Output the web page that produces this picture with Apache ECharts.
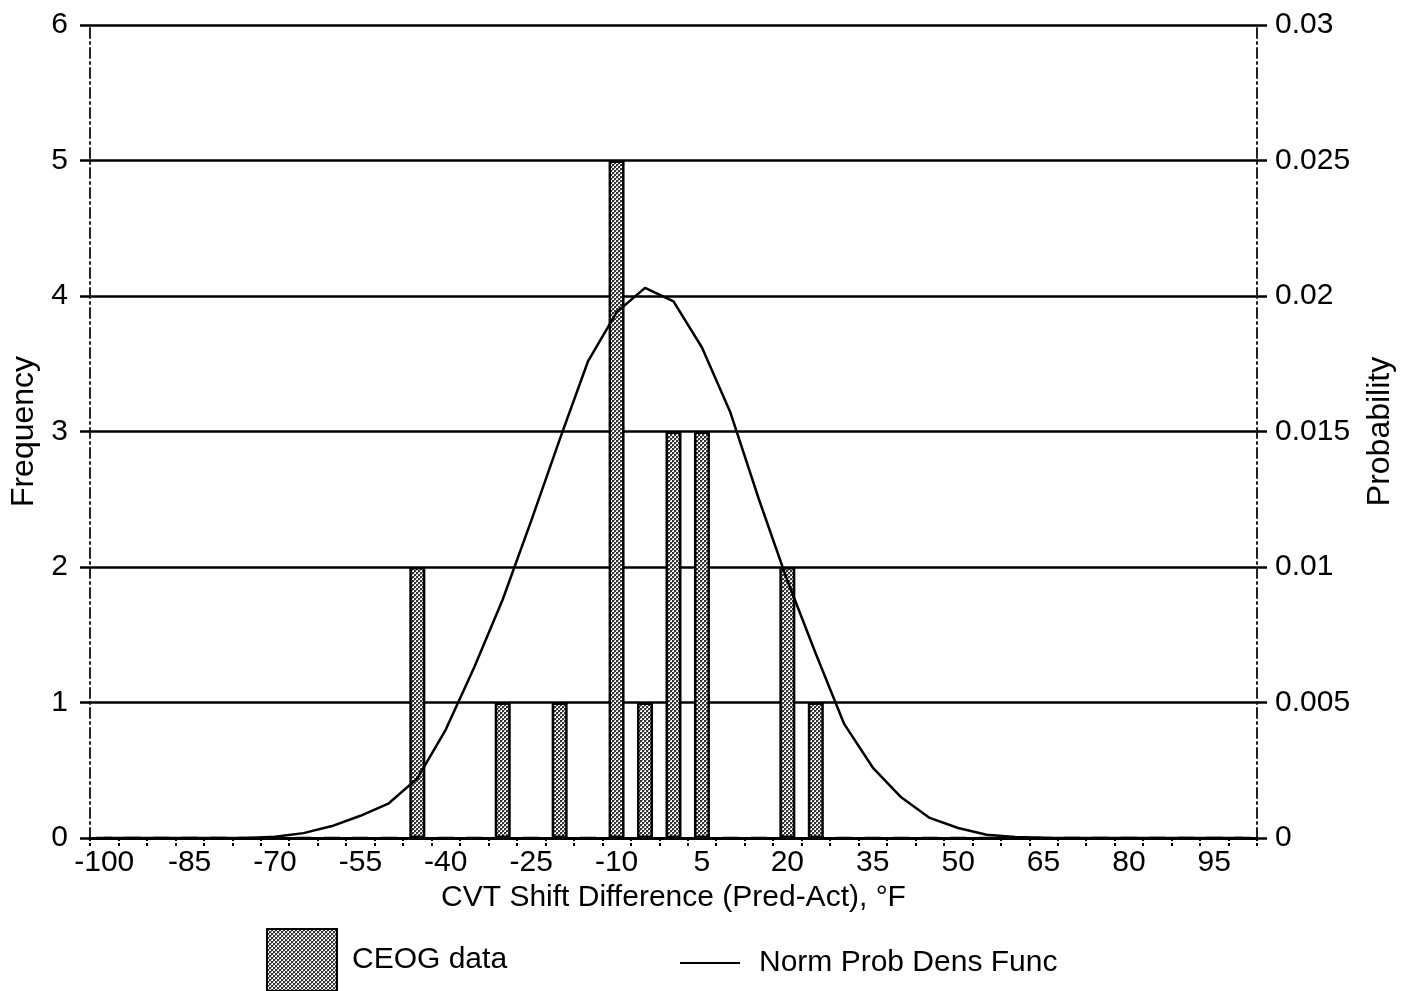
<!DOCTYPE html>
<html>
<head>
<meta charset="utf-8">
<script src="https://cdn.jsdelivr.net/npm/echarts@6/dist/echarts.min.js"></script>
<style>
  html, body { margin: 0; padding: 0; background: #fff; }
  #chart { width: 1410px; height: 991px; }
</style>
</head>
<body>
<div id="chart"></div>
<script>
// x categories, °F bins
const categories = [
  -100, -95, -90, -85, -80, -75, -70, -65, -60, -55, -50, -45, -40, -35, -30, -25, -20, -15, -10, -5,
  0, 5, 10, 15, 20, 25, 30, 35, 40, 45, 50, 55, 60, 65, 70, 75, 80, 85, 90, 95, 100
];
// CEOG data frequency per bin
const frequency = [
  0, 0, 0, 0, 0, 0, 0, 0, 0, 0, 0, 2, 0, 0, 1, 0, 1, 0, 5, 1,
  3, 3, 0, 0, 2, 1, 0, 0, 0, 0, 0, 0, 0, 0, 0, 0, 0, 0, 0, 0, 0
];
// normal probability density
const density = [
  0, 0, 0, 0, 0, 0, 0.00005, 0.00018, 0.00044, 0.00082, 0.00128, 0.0022, 0.0040, 0.0063, 0.0088, 0.0117, 0.0147, 0.0176, 0.0194, 0.0203,
  0.0198, 0.0181, 0.0157, 0.0125, 0.0095, 0.0068, 0.0042, 0.0026, 0.0015, 0.00074, 0.00037, 0.00012, 0.00004, 0.00001, 0, 0, 0, 0, 0, 0, 0
];
const freqTicks = { min: 0, max: 6, interval: 1 };
const probTicks = { min: 0, max: 0.03, interval: 0.005 };

const FONT = '"Liberation Sans", Arial, sans-serif';

// stipple fill like the scanned bars
const makePattern = () => {
  const c = document.createElement('canvas');
  c.width = 4;
  c.height = 4;
  const ctx = c.getContext('2d');
  ctx.fillStyle = '#ffffff';
  ctx.fillRect(0, 0, 4, 4);
  ctx.fillStyle = '#333333';
  ctx.fillRect(0, 0, 2, 2);
  ctx.fillRect(2, 2, 2, 2);
  ctx.fillStyle = '#999999';
  ctx.fillRect(2, 0, 1, 1);
  ctx.fillRect(0, 2, 1, 1);
  return c;
};
const pattern = { image: makePattern(), repeat: 'repeat' };

const chart = echarts.init(document.getElementById('chart'));

const labelStyle = { color: '#000', fontFamily: FONT, fontSize: 30 };

const option = {
  animation: false,
  backgroundColor: '#fff',
  textStyle: { fontFamily: FONT, color: '#000' },
  grid: { left: 90, right: 153, top: 25, bottom: 153, containLabel: false },
  legend: [
    {
      data: [{ name: 'CEOG data', icon: 'rect' }],
      left: 266,
      top: 928,
      padding: 0,
      itemWidth: 70,
      itemHeight: 62,
      itemGap: 20,
      textStyle: { fontFamily: FONT, fontSize: 30, color: '#000', padding: [0, 0, 0, 10] }
    },
    {
      data: [{ name: 'Norm Prob Dens Func', icon: 'rect' }],
      left: 680,
      top: 948,
      padding: 0,
      itemWidth: 60,
      itemHeight: 2,
      itemGap: 20,
      textStyle: { fontFamily: FONT, fontSize: 30, color: '#000', padding: [0, 0, 0, 14] }
    }
  ],
  xAxis: {
    type: 'category',
    data: categories,
    boundaryGap: true,
    name: 'CVT Shift Difference (Pred-Act), °F',
    nameLocation: 'middle',
    nameGap: 37,
    nameTextStyle: { fontFamily: FONT, fontSize: 30, color: '#000' },
    axisLine: { lineStyle: { color: '#000', width: 3 } },
    axisTick: { show: true, interval: 0, length: 8, lineStyle: { color: '#000', width: 2, type: [3, 2] } },
    axisLabel: Object.assign({ interval: 2, margin: 10 }, labelStyle),
    splitLine: { show: false }
  },
  yAxis: [
    {
      type: 'value',
      min: freqTicks.min,
      max: freqTicks.max,
      interval: freqTicks.interval,
      name: 'Frequency',
      nameLocation: 'middle',
      nameRotate: 90,
      nameGap: 50,
      nameTextStyle: { fontFamily: FONT, fontSize: 32, color: '#000' },
      axisLine: { show: true, lineStyle: { color: '#222', width: 2, type: [10, 4, 2, 4] } },
      axisTick: { show: true, length: 10, lineStyle: { color: '#000', width: 2.5 } },
      axisLabel: Object.assign({ margin: 22 }, labelStyle),
      splitLine: { show: true, lineStyle: { color: '#000', width: 2.5 } }
    },
    {
      type: 'value',
      min: probTicks.min,
      max: probTicks.max,
      interval: probTicks.interval,
      position: 'right',
      name: 'Probability',
      nameLocation: 'middle',
      nameRotate: 90,
      nameGap: 107,
      nameTextStyle: { fontFamily: FONT, fontSize: 32, color: '#000' },
      axisLine: { show: true, lineStyle: { color: '#222', width: 2, type: [10, 4, 2, 4] } },
      axisTick: { show: true, length: 10, lineStyle: { color: '#000', width: 2.5 } },
      axisLabel: Object.assign({ margin: 18 }, labelStyle),
      splitLine: { show: false }
    }
  ],
  series: [
    {
      name: 'CEOG data',
      type: 'bar',
      yAxisIndex: 0,
      data: frequency,
      barWidth: 16,
      itemStyle: { color: pattern, borderColor: '#000', borderWidth: 2.5 },
      z: 3
    },
    {
      name: 'Norm Prob Dens Func',
      type: 'line',
      yAxisIndex: 1,
      data: density,
      smooth: false,
      showSymbol: false,
      symbol: 'none',
      itemStyle: { color: '#000' },
      lineStyle: { color: '#000', width: 2.5 },
      z: 4
    }
  ]
};

chart.setOption(option);
</script>
</body>
</html>
